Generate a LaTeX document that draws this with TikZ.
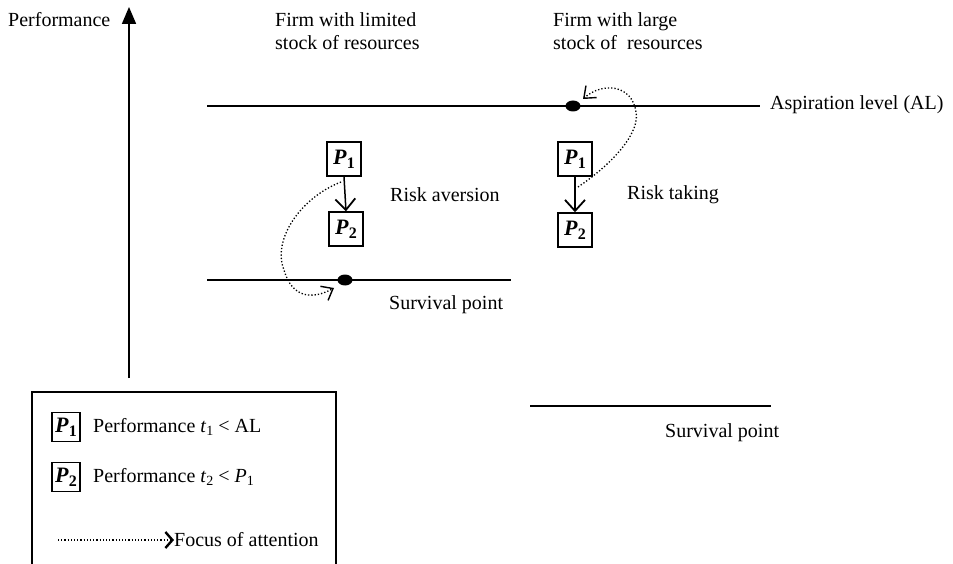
\documentclass[tikz,border=0pt]{standalone}
\usepackage{fontspec}
\setmainfont{Liberation Serif}
\usetikzlibrary{arrows.meta,shapes.geometric}
\newcommand\mysubs[1]{\raisebox{-0.4ex}{\fontsize{14}{14}\selectfont #1}}
\newcommand\PP[1]{{\fontsize{22}{22}\selectfont\textbf{\textit{P}}\raisebox{-0.4ex}{\fontsize{16}{16}\selectfont\textbf{#1}}}}
\newcommand\tsub[2]{\textit{#1}\mysubs{#2}}
\begin{document}
\begin{tikzpicture}[x=1pt,y=-1pt,
  every node/.style={font=\fontsize{20}{23}\selectfont},
  lbl/.style={anchor=west,inner sep=0pt,align=left},
  pbox/.style={draw,line width=1.5pt,minimum size=34pt,inner sep=0pt},
  lgbox/.style={draw,line width=1.3pt,minimum width=28pt,minimum height=29pt,inner sep=0pt},
  dotm/.style={ellipse,fill=black,minimum width=15pt,minimum height=11pt,inner sep=0pt},
  hline/.style={line width=1.6pt},
  focus/.style={dotted,line width=1.3pt,-{Straight Barb[length=10pt,width=16pt,line width=1.4pt]}},
  stp/.style={line width=1.5pt,-{Straight Barb[length=11pt,width=20pt,line width=1.8pt]}}]
\useasboundingbox (0,0) rectangle (953,564);
% axis
\coordinate (ax0) at (129,378);
\coordinate (ax1) at (129,7);
\draw[line width=1.8pt,-{Triangle[length=17pt,width=14pt]}] (ax0) -- (ax1);
\node[lbl] (perf) at (8,20) {Performance};
% headings
\node[lbl] (firm1) at (275,31) {Firm with limited\\stock of resources};
\node[lbl] (firm2) at (553,31) {Firm with large\\stock of\ \ resources};
% aspiration line
\coordinate (al0) at (207,106);
\coordinate (al1) at (760,106);
\draw[hline] (al0) -- (al1);
\node[lbl] (allbl) at (770,105) {Aspiration level (AL)};
\node[dotm] (d1) at (573,106) {};
% survival line (left)
\coordinate (sv0) at (207,280);
\coordinate (sv1) at (511,280);
\draw[hline] (sv0) -- (sv1);
\node[dotm] (d2) at (345,280) {};
\node[lbl] (sv1lbl) at (389,305) {Survival point};
% lower right line
\coordinate (lr0) at (530,406);
\coordinate (lr1) at (771,406);
\draw[hline] (lr0) -- (lr1);
\node[lbl] (sv2lbl) at (665,433) {Survival point};
% left boxes
\node[pbox] (lp1) at (344,159) {\PP{1}};
\node[pbox] (lp2) at (346,229) {\PP{2}};
\draw[stp] (lp1.south) -- (lp2.north);
\node[lbl] (ra) at (390,195) {Risk aversion};
% right boxes
\node[pbox] (rp1) at (575,159) {\PP{1}};
\node[pbox] (rp2) at (575,230) {\PP{2}};
\draw[stp] (rp1.south) -- (rp2.north);
\node[lbl] (rt) at (627,195) {Risk taking};
% focus curves
\coordinate (lc0) at (341,182);
\coordinate (lc1) at (334,288);
\draw[focus] (lc0) .. controls (300,198) and (272,240) .. (284,270)
  .. controls (292,298) and (312,300) .. (lc1);
\coordinate (rc0) at (578,187);
\coordinate (rc1) at (583,99);
\draw[focus] (rc0) .. controls (618,160) and (640,130) .. (636,112)
  .. controls (632,84) and (602,82) .. (rc1);
% legend
\coordinate (lg0) at (32,564);
\coordinate (lg1) at (32,392);
\coordinate (lg2) at (336,392);
\coordinate (lg3) at (336,564);
\draw[line width=1.5pt] (lg0) -- (lg1) -- (lg2) -- (lg3);
\node[lgbox] (lb1) at (66,427) {\PP{1}};
\node[lbl] (lt1) at (93,427) {Performance \tsub{t}{1} < AL};
\node[lgbox] (lb2) at (66,477) {\PP{2}};
\node[lbl] (lt2) at (93,477) {Performance \tsub{t}{2} < \tsub{P}{1}};
\node[lbl] (lt3) at (174,540) {Focus of attention};
\coordinate (la0) at (58,540);
\draw[dotted,line width=1.2pt,-{Straight Barb[length=7pt,width=16pt,line width=2.4pt]}] (la0) -- (lt3.west);
\end{tikzpicture}
\end{document}
